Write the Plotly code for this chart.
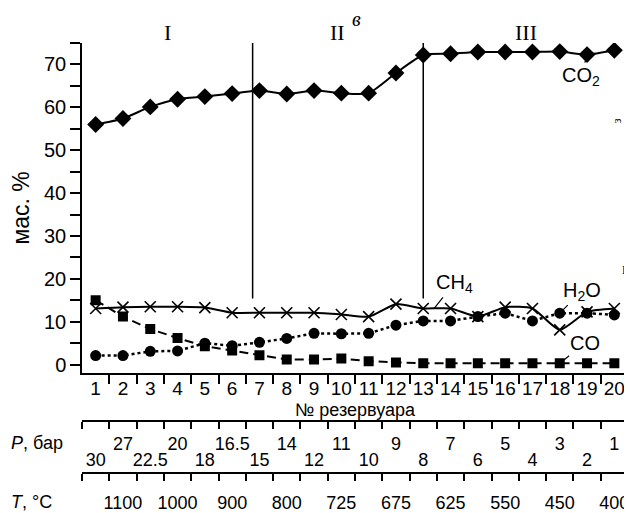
import plotly.graph_objects as go

# ---------------- data ----------------
reservoirs = list(range(1, 21))
co2 = [56.0, 57.4, 60.1, 61.9, 62.5, 63.2, 63.9, 63.1, 63.9, 63.3,
       63.3, 68.0, 72.2, 72.5, 72.9, 72.9, 72.9, 73.0, 72.3, 73.3]
ch4 = [13.1, 13.4, 13.5, 13.5, 13.3, 12.1, 12.1, 12.1, 12.1, 11.7,
       11.2, 14.1, 13.1, 13.1, 11.2, 13.4, 13.1, 8.1, 12.3, 13.1]
h2o = [2.1, 2.1, 3.1, 3.2, 5.0, 4.4, 5.2, 6.1, 7.3, 7.2,
       7.3, 9.2, 10.2, 10.2, 11.2, 12.0, 10.2, 12.0, 12.0, 11.6]
co = [15.0, 11.2, 8.3, 6.2, 4.3, 3.3, 2.2, 1.2, 1.2, 1.4,
      0.8, 0.5, 0.3, 0.3, 0.3, 0.3, 0.3, 0.3, 0.3, 0.3]
pressure_bar = ["30", "27", "22.5", "20", "18", "16.5", "15", "14", "12", "11",
                "10", "9", "8", "7", "6", "5", "4", "3", "2", "1"]
temperature_c = ["1100", "1000", "900", "800", "725", "675", "625", "550", "450", "400"]
temperature_reservoirs = [2, 4, 6, 8, 10, 12, 14, 16, 18, 20]
stage_names = ["I", "II", "III"]
stage_bounds = [6.75, 13]          # reservoir positions of the stage dividers
divider_span = [15.4, 75]          # mass-% extent of the dividers
y_ticks = [0, 10, 20, 30, 40, 50, 60, 70]
y_minor = [5, 15, 25, 35, 45, 55, 65, 75]

# ---------------- geometry (window pixels -> figure) ----------------
OFF = 8                      # page body margin
W, H = 632 - OFF, 513 - OFF
ML = 82 - OFF
MR = 632 - 628
MT = 42.7 - OFF
MB = 513 - 478
PW, PH = W - ML - MR, H - MT - MB

def py(pix):   # paper fraction from a window pixel row
    return (H - MB - (pix - OFF)) / PH

def px(pix):   # paper fraction from a window pixel column
    return (pix - OFF - ML) / PW

FONT = "Liberation Sans, Arial, sans-serif"
SERIF = "Liberation Serif, Times New Roman, serif"
BLACK = "black"

x_lo, x_hi = reservoirs[0] - 0.5, reservoirs[-1] + 0.5
boundaries = [r + 0.5 for r in reservoirs[:-1]]
all_bounds = [x_lo] + boundaries + [x_hi]

fig = go.Figure()

fig.add_trace(go.Scatter(x=reservoirs, y=h2o, mode="lines+markers",
                         line=dict(color=BLACK, width=2.5, dash="dot"),
                         marker=dict(symbol="circle", size=11, color=BLACK),
                         showlegend=False))
fig.add_trace(go.Scatter(x=reservoirs, y=ch4, mode="lines+markers",
                         line=dict(color=BLACK, width=2, shape="spline", smoothing=0.6),
                         marker=dict(symbol="x-thin", size=11,
                                     line=dict(color=BLACK, width=1.6)),
                         showlegend=False))
fig.add_trace(go.Scatter(x=reservoirs, y=co, mode="lines+markers",
                         line=dict(color=BLACK, width=2, dash="9px,5px"),
                         marker=dict(symbol="square", size=10, color=BLACK),
                         showlegend=False))
fig.add_trace(go.Scatter(x=reservoirs, y=co2, mode="lines+markers",
                         line=dict(color=BLACK, width=2, shape="spline", smoothing=0.6),
                         marker=dict(symbol="diamond", size=13, color=BLACK),
                         showlegend=False))

# invisible carriers for the secondary (P, T) axes
for ax in ["x2", "x3", "x4"]:
    fig.add_trace(go.Scatter(x=[reservoirs[0]], y=[None], xaxis=ax, yaxis="y",
                             mode="markers", showlegend=False, hoverinfo="skip"))

# stage dividers
for b in stage_bounds:
    fig.add_shape(type="line", xref="x", yref="y", x0=b, x1=b,
                  y0=divider_span[0], y1=divider_span[1],
                  line=dict(color=BLACK, width=1.5))

annotations = []
# stage names centred in each stage
edges = [x_lo] + stage_bounds + [x_hi]
for i, name in enumerate(stage_names):
    annotations.append(dict(x=(edges[i] + edges[i + 1]) / 2, y=py(32), xref="x", yref="paper",
                            yanchor="middle", text=name, showarrow=False,
                            font=dict(family=SERIF, size=22, color=BLACK)))
annotations.append(dict(x=10.55, y=py(19), xref="x", yref="paper", yanchor="middle",
                        text="<i>в</i>", showarrow=False,
                        font=dict(family=SERIF, size=20, color=BLACK)))

# x-axis caption
annotations.append(dict(x=0.5, y=py(410), xref="paper", yref="paper", yanchor="middle",
                        text="№ резервуара", showarrow=False, borderpad=0,
                        font=dict(family=FONT, size=18, color=BLACK)))

# species labels with leader lines
lab_font = dict(family=FONT, size=20, color=BLACK)
annotations += [
    dict(x=19, y=co2[18], xref="x", yref="y", text="CO<sub>2</sub>", ax=-6, ay=22,
         showarrow=True, arrowhead=0, arrowwidth=1.2, arrowcolor=BLACK, standoff=4, font=lab_font),
    dict(x=13.4, y=13.1, xref="x", yref="y", text="CH<sub>4</sub>", ax=20, ay=-25,
         showarrow=True, arrowhead=0, arrowwidth=1.2, arrowcolor=BLACK, standoff=0, font=lab_font),
    dict(x=18, y=h2o[17], xref="x", yref="y", text="H<sub>2</sub>O", ax=22, ay=-22,
         showarrow=True, arrowhead=0, arrowwidth=1.2, arrowcolor=BLACK, standoff=5, font=lab_font),
    dict(x=18, y=co[17], xref="x", yref="y", text="CO", ax=25, ay=-20,
         showarrow=True, arrowhead=0, arrowwidth=1.2, arrowcolor=BLACK, standoff=5, font=lab_font),
]

# axis captions for the secondary scales
annotations += [
    dict(x=px(9), y=py(443), xref="paper", yref="paper", xanchor="left", yanchor="middle",
         text="<i>P</i>, бар", showarrow=False, font=dict(family=FONT, size=18, color=BLACK)),
    dict(x=px(9), y=py(502), xref="paper", yref="paper", xanchor="left", yanchor="middle",
         text="<i>T</i>, °C", showarrow=False, font=dict(family=FONT, size=18, color=BLACK)),
]
# neighbouring-panel fragments at the right edge
annotations += [
    dict(x=px(626), y=py(121), xref="paper", yref="paper", yanchor="middle", text="з",
         textangle=-90, showarrow=False, font=dict(family=SERIF, size=12, color=BLACK)),
    dict(x=px(631), y=py(270), xref="paper", yref="paper", yanchor="middle", text="Г",
         xanchor="right", showarrow=False, font=dict(family=SERIF, size=12, color=BLACK)),
]

x_tick_font = dict(family=FONT, size=19, color=BLACK)
y_tick_font = dict(family=FONT, size=20, color=BLACK)
sec_font = dict(family=FONT, size=18, color=BLACK)
dom_bottom = py(372.7)

fig.update_layout(
    width=W, height=H,
    margin=dict(l=ML, r=MR, t=MT, b=MB, pad=0, autoexpand=False),
    paper_bgcolor="white", plot_bgcolor="white",
    font=dict(family=FONT, size=18, color=BLACK),
    annotations=annotations,
    xaxis=dict(range=[x_lo, x_hi], domain=[0, 1], anchor="y",
               showline=True, linecolor=BLACK, linewidth=1.5, showgrid=False, zeroline=False,
               tickmode="array", tickvals=reservoirs, ticktext=[str(r) for r in reservoirs],
               ticks="", tickfont=x_tick_font, ticklabelstandoff=-2,
               minor=dict(tickmode="array", tickvals=boundaries, ticks="outside",
                          ticklen=9, tickwidth=1.5, tickcolor=BLACK, showgrid=False)),
    yaxis=dict(range=[-1.9, 75], domain=[dom_bottom, 1], anchor="x",
               showline=True, linecolor=BLACK, linewidth=1.5, showgrid=False, zeroline=False,
               tickmode="array", tickvals=y_ticks, ticks="outside", ticklen=10, tickwidth=1.5,
               tickcolor=BLACK, tickfont=y_tick_font,
               minor=dict(tickmode="array", tickvals=y_minor, ticks="outside",
                          ticklen=10, tickwidth=1.5, tickcolor=BLACK, showgrid=False),
               title=dict(text="мас. %", font=dict(family=FONT, size=23, color=BLACK),
                          standoff=13)),
    xaxis2=dict(range=[x_lo, x_hi], anchor="free", position=py(421), overlaying="x",
                side="bottom", showline=True, linecolor=BLACK, linewidth=1.5,
                showgrid=False, zeroline=False,
                tickmode="array", tickvals=reservoirs[1::2], ticktext=pressure_bar[1::2],
                ticks="", tickfont=sec_font, ticklabelstandoff=7,
                minor=dict(tickmode="array", tickvals=all_bounds, ticks="outside",
                           ticklen=7, tickwidth=1.5, tickcolor=BLACK, showgrid=False)),
    xaxis3=dict(range=[x_lo, x_hi], anchor="free", position=py(421), overlaying="x",
                side="bottom", showline=False, showgrid=False, zeroline=False,
                tickmode="array", tickvals=reservoirs[0::2], ticktext=pressure_bar[0::2],
                ticks="", tickfont=sec_font, ticklabelstandoff=26),
    xaxis4=dict(range=[x_lo, x_hi], anchor="free", position=py(473), overlaying="x",
                side="bottom", showline=True, linecolor=BLACK, linewidth=1.5,
                showgrid=False, zeroline=False,
                tickmode="array", tickvals=temperature_reservoirs, ticktext=temperature_c,
                ticks="", tickfont=sec_font, ticklabelstandoff=14,
                minor=dict(tickmode="array", tickvals=all_bounds, ticks="outside",
                           ticklen=7, tickwidth=1.5, tickcolor=BLACK, showgrid=False)),
)

fig.write_html("out.html")
